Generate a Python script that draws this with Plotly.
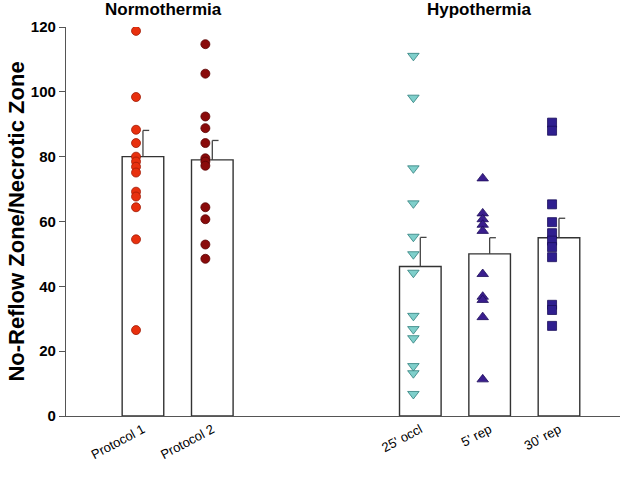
import plotly.graph_objects as go

categories = ["Protocol 1", "Protocol 2", "25' occl", "5' rep", "30' rep"]
cat_pos = [0, 1, 4, 5, 6]

protocol1 = [118.8, 98.4, 88.3, 84.2, 80.0, 78.5, 76.9, 75.1, 69.2, 67.7, 64.4, 54.5, 26.5]
protocol2 = [114.7, 105.6, 92.4, 88.8, 84.2, 79.5, 78.5, 77.2, 64.4, 60.7, 52.9, 48.5]
occl25 = [111.1, 98.2, 76.4, 65.6, 55.3, 49.9, 44.2, 30.9, 26.8, 24.0, 15.4, 13.2, 6.8]
rep5 = [73.3, 62.5, 60.7, 59.0, 57.1, 43.8, 36.8, 35.8, 30.5, 11.3]
rep30 = [90.5, 88.0, 65.3, 59.8, 56.4, 54.1, 52.1, 49.0, 34.3, 32.7, 27.8]

means = [80.0, 79.0, 46.1, 50.0, 55.0]
sem = [8.1, 6.0, 9.0, 5.0, 6.0]

group_titles = ["Normothermia", "Hypothermia"]
group_title_pos = [0.3, 4.85]

series = [protocol1, protocol2, occl25, rep5, rep30]
symbols = ["circle", "circle", "triangle-down", "triangle-up", "square"]
fills = ["#E8300E", "#8A0B0B", "#7FCFCB", "#3A1E8E", "#2F1F8F"]
edges = ["#A01A05", "#5A0505", "#2E7F7C", "#1E0F5A", "#1A0F5A"]
sizes = [9, 9, 10, 10, 9]

BAR_W = 0.6
PT_OFF = -0.1
CAP = 0.09
FONT = "Liberation Sans, Arial, sans-serif"

fig = go.Figure()

fig.add_trace(go.Bar(
    x=cat_pos, y=means, width=BAR_W,
    marker=dict(color="white", line=dict(color="#333333", width=1.4)),
    showlegend=False, hoverinfo="skip",
))

# error bars (upper only, half cap to the right)
ex, ey = [], []
for xc, m, s in zip(cat_pos, means, sem):
    ex += [xc, xc, None, xc, xc + CAP, None]
    ey += [m, m + s, None, m + s, m + s, None]
fig.add_trace(go.Scatter(x=ex, y=ey, mode="lines",
                         line=dict(color="#444444", width=1.3),
                         showlegend=False, hoverinfo="skip"))

for xc, vals, sym, fc, ec, sz in zip(cat_pos, series, symbols, fills, edges, sizes):
    fig.add_trace(go.Scatter(
        x=[xc + PT_OFF] * len(vals), y=vals, mode="markers",
        marker=dict(symbol=sym, size=sz, color=fc, line=dict(color=ec, width=0.8)),
        showlegend=False,
    ))

for t, xp in zip(group_titles, group_title_pos):
    fig.add_annotation(text="<b>" + t + "</b>", x=xp, xref="x", y=1.0, yref="paper",
                       yanchor="bottom", yshift=6, showarrow=False,
                       font=dict(family=FONT, size=17, color="black"))

fig.update_layout(
    width=622, height=480,
    margin=dict(l=66, r=2, t=27, b=64),
    paper_bgcolor="white", plot_bgcolor="white",
    font=dict(family=FONT, color="black"),
    xaxis=dict(range=[-1.11, 6.88], tickmode="array", tickvals=cat_pos, ticktext=categories,
               tickangle=-28, tickfont=dict(size=13, family=FONT), showline=True, linecolor="#555555",
               linewidth=1.2, showgrid=False, zeroline=False, ticks=""),
    yaxis=dict(range=[0, 120], tickvals=[0, 20, 40, 60, 80, 100, 120], showline=True,
               linecolor="#555555", linewidth=1.2, ticks="outside", ticklen=6,
               tickcolor="#555555", showgrid=False, zeroline=False,
               tickfont=dict(size=15, family=FONT, weight="bold"),
               title=dict(text="<b>No-Reflow Zone/Necrotic Zone</b>", font=dict(size=22, family=FONT), standoff=0)),
)

fig.write_html("out.html", config={"displayModeBar": False},
               post_script="document.body.style.margin='0px';")
